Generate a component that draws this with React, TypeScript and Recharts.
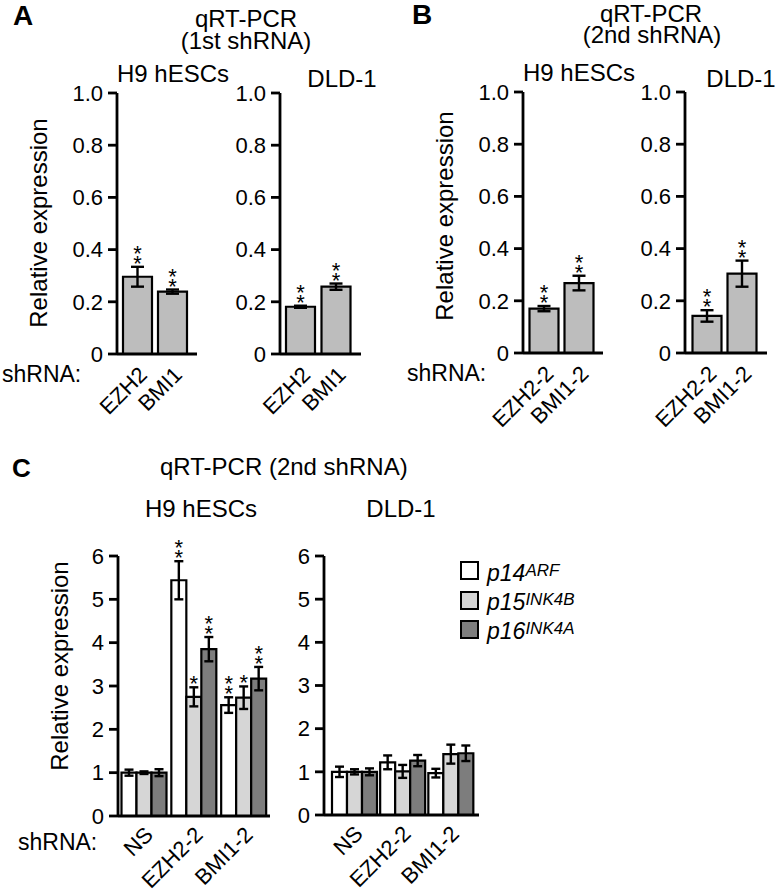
import { BarChart, Bar, XAxis, YAxis, ErrorBar, LabelList } from 'recharts';

const FONT = '"Liberation Sans", Arial, Helvetica, sans-serif';

// panels A / B : knockdown efficiency
const firstShrna = ['EZH2', 'BMI1'];
const secondShrna = ['EZH2-2', 'BMI1-2'];
const h9First = [0.296, 0.239];
const h9FirstErr = [0.038, 0.008];
const dldFirst = [0.181, 0.258];
const dldFirstErr = [0.004, 0.012];
const h9Second = [0.17, 0.268];
const h9SecondErr = [0.01, 0.028];
const dldSecond = [0.142, 0.304];
const dldSecondErr = [0.022, 0.05];
const knockdownSig = ['**', '**'];
const abTicks = [0, 0.2, 0.4, 0.6, 0.8, 1.0];

// panel C : p14 / p15 / p16 expression
const cShrna = ['NS', 'EZH2-2', 'BMI1-2'];
const h9P14 = [1.0, 5.44, 2.56];
const h9P14Err = [0.07, 0.44, 0.18];
const h9P15 = [1.0, 2.75, 2.73];
const h9P15Err = [0.03, 0.22, 0.26];
const h9P16 = [1.0, 3.85, 3.17];
const h9P16Err = [0.08, 0.28, 0.27];
const h9P14Sig = ['', '**', '**'];
const h9P15Sig = ['', '*', '*'];
const h9P16Sig = ['', '**', '**'];
const dldP14 = [1.0, 1.22, 0.97];
const dldP14Err = [0.12, 0.16, 0.1];
const dldP15 = [1.0, 1.01, 1.41];
const dldP15Err = [0.06, 0.15, 0.22];
const dldP16 = [1.0, 1.26, 1.43];
const dldP16Err = [0.08, 0.13, 0.18];
const noSig = ['', '', ''];
const cTicks = [0, 1, 2, 3, 4, 5, 6];

const AB_FILL = '#bdbdbd';
const P14_FILL = '#ffffff';
const P15_FILL = '#d6d6d6';
const P16_FILL = '#7d7d7d';

const Y_W = 60;
const M_TOP = 35;
const M_RIGHT = 4;
const X_H = 80;

const abRows = (names: string[], vals: number[], errs: number[], sigs: string[]) =>
  names.map((name, i) => ({ name, value: vals[i], err: errs[i], sig: sigs[i] }));

const cRows = (
  v14: number[], e14: number[], s14: string[],
  v15: number[], e15: number[], s15: string[],
  v16: number[], e16: number[], s16: string[]
) =>
  cShrna.map((name, i) => ({
    name,
    p14: v14[i], e14: e14[i], s14: s14[i],
    p15: v15[i], e15: e15[i], s15: s15[i],
    p16: v16[i], e16: e16[i], s16: s16[i],
  }));

// stacked asterisks sitting just above the error bar (one text, one line per star)
const starLabel = (vals: number[], errs: number[]) => (props: any) => {
  const vb = props.viewBox || props;
  const x = vb.x, y = vb.y, w = vb.width, h = vb.height;
  const i = props.index;
  const s = props.value;
  if (!s || i == null) return null;
  const ppu = Math.abs(h) / vals[i];
  const top = Math.min(y, y + h) - errs[i] * ppu;
  const cx = x + w / 2;
  const stars = Array.from(String(s));
  const n = stars.length;
  return (
    <text textAnchor='middle' fontSize={22} fontFamily={FONT} fill='#000'>
      {stars.map((c, k) => (
        <tspan key={k} x={cx} y={top + 4 - (n - 1 - k) * 10}>
          {c}
        </tspan>
      ))}
    </text>
  );
};

const RotTick = (props: any) => {
  const { x, y, payload, dx, dy } = props;
  const tx = x + dx;
  const ty = y + dy;
  return (
    <text x={tx} y={ty} transform={`rotate(-45 ${tx} ${ty})`} textAnchor='end' fontSize={22} fontFamily={FONT} fill='#000'>
      {payload.value}
    </text>
  );
};

const axisStroke = { stroke: '#000', strokeWidth: 2.8 };

type Geo = { left: number; right: number; top: number; bottom: number };

function Panel({ geo, data, padL, padR, barSize, barGap, ticks, max, fmt, tdx, tdy, children }: any) {
  const g = geo as Geo;
  const width = g.right - g.left + Y_W + M_RIGHT;
  const height = g.bottom - g.top + M_TOP + X_H;
  return (
    <div style={{ position: 'absolute', left: g.left - Y_W, top: g.top - M_TOP }}>
      <BarChart
        width={width}
        height={height}
        data={data}
        margin={{ top: M_TOP, right: M_RIGHT, left: 0, bottom: 0 }}
        barSize={barSize}
        barGap={barGap}
      >
        <XAxis
          dataKey='name'
          padding={{ left: padL, right: padR }}
          stroke='#000'
          axisLine={axisStroke}
          tickLine={false}
          tickSize={0}
          tickMargin={0}
          height={X_H}
          interval={0}
          tick={(p: any) => <RotTick {...p} dx={tdx} dy={tdy} />}
        />
        <YAxis
          domain={[0, max]}
          ticks={ticks}
          interval={0}
          width={Y_W}
          stroke='#000'
          axisLine={axisStroke}
          tickLine={axisStroke}
          tickSize={9}
          tickMargin={5}
          tickFormatter={fmt}
          tick={{ fill: '#000', fontSize: 22, fontFamily: FONT }}
        />
        {children}
      </BarChart>
    </div>
  );
}

const abFmt = (v: number) => (v === 0 ? '0' : v.toFixed(1));
const cFmt = (v: number) => String(v);

function KnockdownPanel({ geo, names, vals, errs, padL, padR }: any) {
  return (
    <Panel geo={geo} data={abRows(names, vals, errs, knockdownSig)} padL={padL} padR={padR} barSize={29} barGap={0} ticks={abTicks} max={1} fmt={abFmt} tdx={11} tdy={22}>
      <Bar dataKey='value' fill={AB_FILL} stroke='#000' strokeWidth={2.2} isAnimationActive={false}>
        <ErrorBar dataKey='err' width={6.5} stroke='#000' strokeWidth={2.4} direction='y' />
        <LabelList dataKey='sig' content={starLabel(vals, errs)} />
      </Bar>
    </Panel>
  );
}

function InkPanel({ geo, rows, v14, e14, v15, e15, v16, e16, padL, padR }: any) {
  return (
    <Panel geo={geo} data={rows} padL={padL} padR={padR} barSize={15} barGap={0} ticks={cTicks} max={6} fmt={cFmt} tdx={10} tdy={20}>
      <Bar dataKey='p14' fill={P14_FILL} stroke='#000' strokeWidth={2.2} isAnimationActive={false}>
        <ErrorBar dataKey='e14' width={4.5} stroke='#000' strokeWidth={2.4} direction='y' />
        <LabelList dataKey='s14' content={starLabel(v14, e14)} />
      </Bar>
      <Bar dataKey='p15' fill={P15_FILL} stroke='#000' strokeWidth={2.2} isAnimationActive={false}>
        <ErrorBar dataKey='e15' width={4.5} stroke='#000' strokeWidth={2.4} direction='y' />
        <LabelList dataKey='s15' content={starLabel(v15, e15)} />
      </Bar>
      <Bar dataKey='p16' fill={P16_FILL} stroke='#000' strokeWidth={2.2} isAnimationActive={false}>
        <ErrorBar dataKey='e16' width={4.5} stroke='#000' strokeWidth={2.4} direction='y' />
        <LabelList dataKey='s16' content={starLabel(v16, e16)} />
      </Bar>
    </Panel>
  );
}

const T = (props: any) => <text fontFamily={FONT} fontSize={24} fill='#000' {...props} />;

export default function App() {
  return (
    <div style={{ position: 'absolute', left: 0, top: 0, width: 782, height: 894, background: '#fff', overflow: 'hidden' }}>
      <KnockdownPanel geo={{ left: 117, right: 197, top: 93, bottom: 354 }} names={firstShrna} vals={h9First} errs={h9FirstErr} padL={3} padR={7} />
      <KnockdownPanel geo={{ left: 280, right: 361, top: 93, bottom: 354 }} names={firstShrna} vals={dldFirst} errs={dldFirstErr} padL={3} padR={7} />
      <KnockdownPanel geo={{ left: 523, right: 603, top: 92, bottom: 353 }} names={secondShrna} vals={h9Second} errs={h9SecondErr} padL={3.5} padR={6.5} />
      <KnockdownPanel geo={{ left: 685, right: 767, top: 92, bottom: 353 }} names={secondShrna} vals={dldSecond} errs={dldSecondErr} padL={4.5} padR={7.5} />
      <InkPanel
        geo={{ left: 118, right: 270, top: 556, bottom: 816 }}
        rows={cRows(h9P14, h9P14Err, h9P14Sig, h9P15, h9P15Err, h9P15Sig, h9P16, h9P16Err, h9P16Sig)}
        v14={h9P14} e14={h9P14Err} v15={h9P15} e15={h9P15Err} v16={h9P16} e16={h9P16Err}
        padL={1.5} padR={1}
      />
      <InkPanel
        geo={{ left: 324, right: 479, top: 556, bottom: 815 }}
        rows={cRows(dldP14, dldP14Err, noSig, dldP15, dldP15Err, noSig, dldP16, dldP16Err, noSig)}
        v14={dldP14} e14={dldP14Err} v15={dldP15} e15={dldP15Err} v16={dldP16} e16={dldP16Err}
        padL={6} padR={4.5}
      />

      <svg width={782} height={894} style={{ position: 'absolute', left: 0, top: 0, pointerEvents: 'none' }}>
        {/* panel letters */}
        <T x={13} y={25} fontSize={28} fontWeight='bold'>A</T>
        <T x={412} y={24} fontSize={28} fontWeight='bold'>B</T>
        <T x={12} y={477} fontSize={26} fontWeight='bold'>C</T>

        {/* A titles */}
        <T x={246} y={27} textAnchor='middle'>qRT-PCR</T>
        <T x={246} y={49} textAnchor='middle'>(1st shRNA)</T>
        <T x={173} y={82} textAnchor='middle'>H9 hESCs</T>
        <T x={342} y={87} textAnchor='middle'>DLD-1</T>
        <T x={2} y={382} fontSize={23}>shRNA:</T>
        <T x={47} y={223} textAnchor='middle' transform='rotate(-90 47 223)'>Relative expression</T>

        {/* B titles */}
        <T x={651} y={22} textAnchor='middle'>qRT-PCR</T>
        <T x={652} y={43} textAnchor='middle'>(2nd shRNA)</T>
        <T x={579} y={81} textAnchor='middle'>H9 hESCs</T>
        <T x={741} y={87} textAnchor='middle'>DLD-1</T>
        <T x={407} y={381} fontSize={23}>shRNA:</T>
        <T x={453} y={216} textAnchor='middle' transform='rotate(-90 453 216)'>Relative expression</T>

        {/* C titles */}
        <T x={160} y={475}>qRT-PCR (2nd shRNA)</T>
        <T x={201} y={517} textAnchor='middle'>H9 hESCs</T>
        <T x={401} y={517} textAnchor='middle'>DLD-1</T>
        <T x={18} y={850} fontSize={23}>shRNA:</T>
        <T x={68} y={666} textAnchor='middle' transform='rotate(-90 68 666)'>Relative expression</T>

        {/* legend */}
        <rect x={461} y={562} width={17} height={17} fill={P14_FILL} stroke='#000' strokeWidth={2} />
        <rect x={461} y={592} width={17} height={17} fill={P15_FILL} stroke='#000' strokeWidth={2} />
        <rect x={461} y={621} width={17} height={17} fill={P16_FILL} stroke='#000' strokeWidth={2} />
        <T x={487} y={581} fontSize={23} fontStyle='italic'>
          p14<tspan fontSize={17} dy={-5}>ARF</tspan>
        </T>
        <T x={487} y={610} fontSize={23} fontStyle='italic'>
          p15<tspan fontSize={17} dy={-5}>INK4B</tspan>
        </T>
        <T x={487} y={639} fontSize={23} fontStyle='italic'>
          p16<tspan fontSize={17} dy={-5}>INK4A</tspan>
        </T>
      </svg>
    </div>
  );
}
